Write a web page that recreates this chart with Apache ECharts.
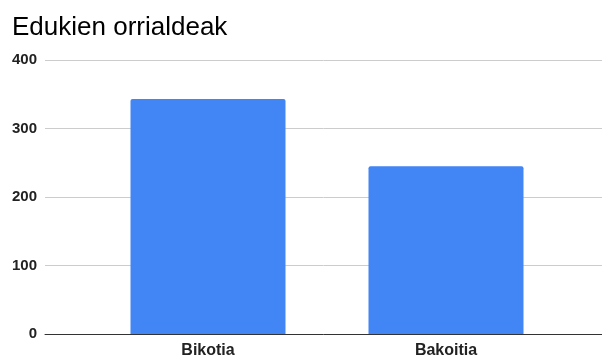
<!DOCTYPE html>
<html>
<head>
<meta charset="utf-8">
<script src="https://cdn.jsdelivr.net/npm/echarts@6/dist/echarts.min.js"></script>
<style>html,body{margin:0;padding:0;background:#fff}#c{width:602px;height:361px}</style>
</head>
<body>
<div id="c"></div>
<script>
const title = 'Edukien orrialdeak';
const categories = ['Bikotia', 'Bakoitia'];
const values = [343, 245];
const yMin = 0, yMax = 400, yStep = 100;

const chart = echarts.init(document.getElementById('c'), null, {renderer: 'canvas'});
const font = 'Liberation Sans, Arial, sans-serif';
chart.setOption({
  animation: false,
  backgroundColor: '#fff',
  title: {
    text: title, left: 12, top: 15, padding: 0,
    textStyle: {fontFamily: font, fontSize: 26, fontWeight: 'normal', color: '#000'}
  },
  grid: [
    {left: 45, right: 0, top: 60, bottom: 27, containLabel: false},
    {left: 89, right: 37, top: 60, bottom: 27, containLabel: false}
  ],
  xAxis: [
    {gridIndex: 0, type: 'value', min: 0, max: 1, axisLabel: {show: false}, axisTick: {show: false},
     splitLine: {show: false}, axisLine: {show: true, onZero: false, lineStyle: {color: '#333', width: 1}}},
    {gridIndex: 1, type: 'category', data: categories, axisLine: {show: false}, axisTick: {show: false},
     axisLabel: {fontFamily: font, fontSize: 16, fontWeight: 'bold', color: '#222', margin: 9}}
  ],
  yAxis: [
    {gridIndex: 0, type: 'value', min: yMin, max: yMax, interval: yStep,
     axisLine: {show: false}, axisTick: {show: false},
     axisLabel: {fontFamily: font, fontSize: 15, fontWeight: 'bold', color: '#222', margin: 8},
     splitLine: {lineStyle: {color: '#ccc', width: 1}}},
    {gridIndex: 1, type: 'value', min: yMin, max: yMax, interval: yStep, show: false}
  ],
  series: [{
    type: 'bar', xAxisIndex: 1, yAxisIndex: 1, data: values, barWidth: 155,
    itemStyle: {color: '#4285f4', borderRadius: [2, 2, 0, 0]}
  }]
});
</script>
</body>
</html>
